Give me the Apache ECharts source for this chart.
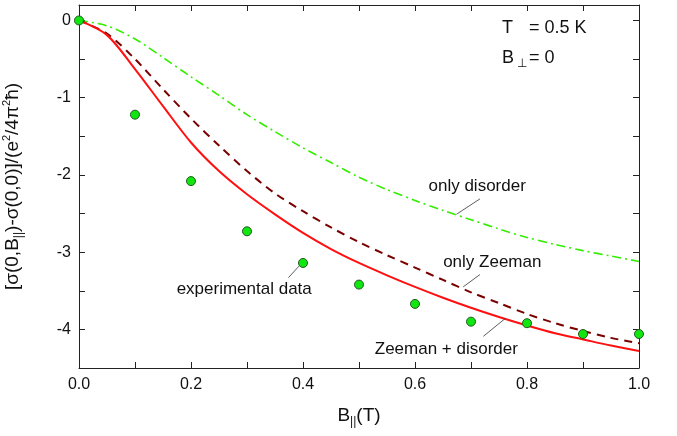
<!DOCTYPE html>
<html>
<head>
<meta charset="utf-8">
<script src="https://cdn.jsdelivr.net/npm/echarts@6/dist/echarts.min.js"></script>
<style>html,body{margin:0;padding:0;background:#fff}#main{width:677px;height:436px}</style>
</head>
<body>
<div id="main"></div>
<script>
// field B (T) for the model curves
var bField = [0, 0.05, 0.1, 0.15, 0.2, 0.25, 0.3, 0.35, 0.4, 0.45, 0.5, 0.55, 0.6, 0.65, 0.7, 0.75, 0.8, 0.85, 0.9, 0.95, 1.0];
var zeemanDisorder = [0, -0.19, -0.63, -1.11, -1.58, -1.95, -2.25, -2.51, -2.75, -2.96, -3.14, -3.30, -3.45, -3.59, -3.72, -3.84, -3.95, -4.05, -4.13, -4.21, -4.28];
var onlyZeeman = [0, -0.17, -0.50, -0.89, -1.27, -1.62, -1.95, -2.24, -2.47, -2.68, -2.87, -3.04, -3.20, -3.36, -3.52, -3.66, -3.80, -3.92, -4.02, -4.11, -4.18];
var onlyDisorder = [0, -0.07, -0.24, -0.48, -0.73, -0.97, -1.22, -1.44, -1.65, -1.84, -2.03, -2.19, -2.33, -2.46, -2.58, -2.70, -2.81, -2.90, -2.98, -3.05, -3.12];

// measured points
var expB = [0, 0.1, 0.2, 0.3, 0.4, 0.5, 0.6, 0.7, 0.8, 0.9, 1.0];
var expData = [0, -1.22, -2.08, -2.73, -3.14, -3.42, -3.67, -3.90, -3.92, -4.06, -4.06];

var xTicks = [0, 1, 0.1];      // min, max, tick step
var yTicks = [-4.5, 0.2, 0.5];

var FONT = 'Liberation Sans, Arial, sans-serif';

function pairs(xs, ys) {
    var out = [];
    for (var i = 0; i < xs.length; i++) out.push([xs[i], ys[i]]);
    return out;
}

var axisCol = '#222';
function xAx(pos, showLabel) {
    return {
        type: 'value', position: pos, min: xTicks[0], max: xTicks[1], interval: xTicks[2],
        axisLine: {show: true, onZero: false, lineStyle: {color: axisCol, width: 1}},
        axisTick: {show: true, inside: true, length: 6, lineStyle: {color: axisCol}},
        splitLine: {show: false},
        axisLabel: {
            show: showLabel, margin: 9, color: '#111', fontSize: 16, fontFamily: FONT,
            formatter: function (v) {
                var k = Math.round(v * 10);
                return k % 2 === 0 ? (k / 10).toFixed(1) : '';
            }
        }
    };
}
function yAx(pos, showLabel) {
    return {
        type: 'value', position: pos, min: yTicks[0], max: yTicks[1], interval: yTicks[2],
        axisLine: {show: true, onZero: false, lineStyle: {color: axisCol, width: 1}},
        axisTick: {show: true, inside: true, length: 6, lineStyle: {color: axisCol}},
        splitLine: {show: false},
        axisLabel: {
            show: showLabel, margin: 8, color: '#111', fontSize: 16, fontFamily: FONT,
            formatter: function (v) {
                return Math.abs(v - Math.round(v)) < 1e-6 ? String(Math.round(v)) : '';
            }
        }
    };
}

var bottomX = xAx('bottom', true);
bottomX.name = '{a|B}{s|||}{a|(T)}';
bottomX.nameLocation = 'middle';
bottomX.nameGap = 36;
bottomX.nameTextStyle = {
    rich: {
        a: {fontSize: 19, fontFamily: FONT, color: '#111', lineHeight: 24},
        s: {fontSize: 12, fontFamily: FONT, color: '#111', lineHeight: 12, verticalAlign: 'bottom'}
    }
};
var leftY = yAx('left', true);
leftY.name = '{a|[σ(0,B}{s|||}{a|)-σ(0,0)]/(e}{p|2}{a|/4π}{p|2}{a|ħ)}';
leftY.nameLocation = 'middle';
leftY.nameRotate = 90;
leftY.nameGap = 54;
leftY.nameTextStyle = {
    rich: {
        a: {fontSize: 19, fontFamily: FONT, color: '#111', lineHeight: 24},
        s: {fontSize: 12, fontFamily: FONT, color: '#111', lineHeight: 12, verticalAlign: 'bottom'},
        p: {fontSize: 11, fontFamily: FONT, color: '#111', lineHeight: 11, verticalAlign: 'top'}
    }
};

var myChart = echarts.init(document.getElementById('main'));
myChart.setOption({
    backgroundColor: '#fff',
    animation: false,
    grid: {left: 79, right: 38, top: 5, bottom: 68, outerBoundsMode: 'none'},
    xAxis: [bottomX, xAx('top', false)],
    yAxis: [leftY, yAx('right', false)],
    series: [
        {
            name: 'only disorder', type: 'line', smooth: 0.3, symbol: 'none',
            data: pairs(bField, onlyDisorder),
            lineStyle: {color: '#33ee00', width: 1.6, type: [9, 4, 2, 4]}
        },
        {
            name: 'only Zeeman', type: 'line', smooth: 0.3, symbol: 'none',
            data: pairs(bField, onlyZeeman),
            lineStyle: {color: '#7a0000', width: 2, type: [8, 6]}
        },
        {
            name: 'Zeeman + disorder', type: 'line', smooth: 0.3, symbol: 'none',
            data: pairs(bField, zeemanDisorder),
            lineStyle: {color: '#ff1010', width: 2}
        },
        {
            name: 'experimental data', type: 'scatter', symbolSize: 9, z: 5, clip: true,
            data: pairs(expB, expData),
            itemStyle: {color: '#11e611', borderColor: '#1f5a1f', borderWidth: 1, opacity: 1}
        }
    ]
});

// annotation texts and leader lines, placed in data coordinates
var notes = [
    {text: 'only disorder', at: [0.711, -2.15], line: [[0.674, -2.51], [0.716, -2.31]]},
    {text: 'only Zeeman', at: [0.738, -3.13], line: [[0.686, -3.45], [0.716, -3.29]]},
    {text: 'Zeeman + disorder', at: [0.656, -4.26], line: [[0.722, -4.09], [0.761, -3.86]]},
    {text: 'experimental data', at: [0.295, -3.48], line: [[0.374, -3.33], [0.393, -3.18]]}
];
var px = function (p) { return myChart.convertToPixel({xAxisIndex: 0, yAxisIndex: 0}, p); };
var g = [];
notes.forEach(function (n) {
    var a = px(n.line[0]), b = px(n.line[1]), c = px(n.at);
    g.push({type: 'line', shape: {x1: a[0], y1: a[1], x2: b[0], y2: b[1]}, style: {stroke: '#333', lineWidth: 0.8}, z: 10});
    g.push({type: 'text', x: c[0], y: c[1], z: 10,
        style: {text: n.text, fill: '#111', fontSize: 17, fontFamily: FONT, align: 'center', verticalAlign: 'middle'}});
});
// conditions box, top right
g.push({type: 'text', x: 502, y: 28, style: {text: 'T', fill: '#111', fontSize: 18, fontFamily: FONT, verticalAlign: 'middle'}});
g.push({type: 'text', x: 529, y: 28, style: {text: '= 0.5 K', fill: '#111', fontSize: 18, fontFamily: FONT, verticalAlign: 'middle'}});
g.push({type: 'text', x: 502, y: 58, style: {text: 'B', fill: '#111', fontSize: 18, fontFamily: FONT, verticalAlign: 'middle'}});
g.push({type: 'text', x: 517, y: 64, style: {text: '⊥', fill: '#111', fontSize: 12, fontFamily: FONT, verticalAlign: 'middle'}});
g.push({type: 'text', x: 529, y: 58, style: {text: '= 0', fill: '#111', fontSize: 18, fontFamily: FONT, verticalAlign: 'middle'}});
myChart.setOption({graphic: g});
</script>
</body>
</html>
